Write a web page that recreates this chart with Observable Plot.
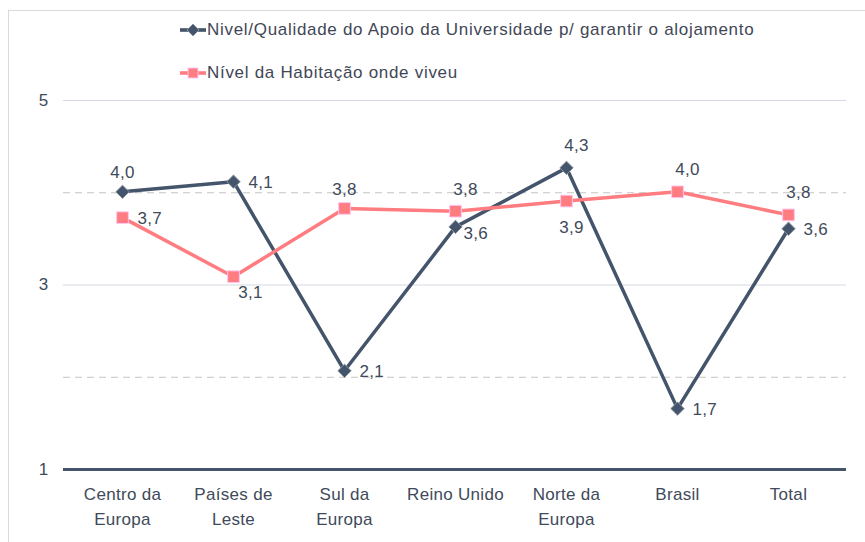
<!DOCTYPE html>
<html><head><meta charset="utf-8">
<script src="https://cdn.jsdelivr.net/npm/d3@7"></script>
<script src="https://cdn.jsdelivr.net/npm/@observablehq/plot@0.6"></script>
<style>
body{margin:0;background:#fff;font-family:"Liberation Sans",Arial,sans-serif;}
#wrap{position:relative;width:865px;height:542px;overflow:hidden;}
#frame{position:absolute;left:8px;top:10px;width:900px;height:600px;border:1px solid #d9d9d9;box-sizing:border-box;pointer-events:none;}
#chart{position:absolute;left:0;top:0;}
.leg{position:absolute;left:180px;display:flex;align-items:center;font-size:17px;color:#3f4756;letter-spacing:0.7px;white-space:nowrap;height:20px;}
.leg svg{margin-right:1px;}
</style></head><body>
<div id="wrap">
  <div id="chart"></div>
  <div id="frame"></div>
  <div class="leg" id="leg1" style="top:20px"></div>
  <div class="leg" id="leg2" style="top:63px"></div>
</div>
<script>
const categories = ["Centro da Europa", "Países de Leste", "Sul da Europa", "Reino Unido", "Norte da Europa", "Brasil", "Total"];
const tickLabels = ["Centro da\nEuropa", "Países de\nLeste", "Sul da\nEuropa", "Reino Unido", "Norte da\nEuropa", "Brasil", "Total"];
const seriesNames = ["Nivel/Qualidade do Apoio da Universidade p/ garantir o alojamento", "Nível da Habitação onde viveu"];
const apoio = [4.01, 4.12, 2.07, 3.63, 4.27, 1.66, 3.61];
const habitacao = [3.73, 3.09, 3.83, 3.80, 3.91, 4.01, 3.76];
const yTicks = [1, 3, 5];
const solidGrid = [3, 5];
const dashedGrid = [2, 4];
const baseline = [1];
// label placement keywords (Excel-style data label positions)
const apoioLabelPos = ["top", "right", "right", "rightDown", "topR", "right", "right"];
const habLabelPos = ["right", "belowR", "top", "topR", "below", "topR", "topR"];

const DARK = "#44546a", PINK = "#ff7c80", TXT = "#404a5a";
const fmt = v => v.toFixed(1).replace(".", ",");

const apoioRows = categories.map((c, i) => ({cat: c, v: apoio[i], pos: apoioLabelPos[i]}));
const habRows = categories.map((c, i) => ({cat: c, v: habitacao[i], pos: habLabelPos[i]}));
const allRows = apoioRows.concat(habRows);

const placements = {
  top: {dx: 0, dy: -19, textAnchor: "middle"},
  topR: {dx: 10, dy: -22, textAnchor: "middle"},
  right: {dx: 15, dy: 1, textAnchor: "start"},
  rightDown: {dx: 8, dy: 7, textAnchor: "start"},
  belowR: {dx: 17, dy: 16, textAnchor: "middle"},
  below: {dx: 5, dy: 26, textAnchor: "middle"}
};

const labelMarks = Object.entries(placements).map(([k, o]) =>
  Plot.text(allRows.filter(d => d.pos === k), {x: "cat", y: "v", text: d => fmt(d.v), fill: TXT, fontSize: 17, ...o})
);

const chart = Plot.plot({
  width: 865,
  height: 542,
  marginLeft: 63,
  marginRight: 19,
  marginTop: 100,
  marginBottom: 73,
  style: {fontFamily: "'Liberation Sans', Arial, sans-serif", fontSize: "17px", color: TXT, background: "transparent", letterSpacing: "0.3px"},
  x: {type: "point", domain: categories, padding: 0.5, label: null},
  y: {domain: [1, 5], label: null},
  marks: [
    Plot.ruleY(solidGrid, {stroke: "#d6d9e2", strokeWidth: 1}),
    Plot.ruleY(dashedGrid, {stroke: "#c4c4c4", strokeWidth: 1, strokeDasharray: "7,5"}),
    Plot.ruleY(baseline, {stroke: DARK, strokeWidth: 3}),
    Plot.axisY({ticks: yTicks, tickSize: 0, tickPadding: 15, fontSize: 17, label: null, tickFormat: d => String(d)}),
    Plot.axisX({tickSize: 0, tickPadding: 13, fontSize: 17, lineHeight: 1.47, label: null,
      tickFormat: d => tickLabels[categories.indexOf(d)]}),
    Plot.line(apoioRows, {x: "cat", y: "v", stroke: DARK, strokeWidth: 3.5}),
    Plot.dot(apoioRows, {x: "cat", y: "v", symbol: "diamond2", r: 6, fill: DARK, stroke: "#8a94a2", strokeWidth: 1}),
    Plot.line(habRows, {x: "cat", y: "v", stroke: PINK, strokeWidth: 3.5}),
    Plot.dot(habRows, {x: "cat", y: "v", symbol: "square", r: 6.6, fill: PINK, stroke: "#ffc6f2", strokeWidth: 1}),
    ...labelMarks
  ]
});
document.getElementById("chart").appendChild(chart);

// Legend
function legIcon(kind) {
  const s = kind === "diamond"
    ? `<rect x="0" y="6.2" width="26" height="3.6" fill="${DARK}"/><path d="M13 2 L19 8 L13 14 L7 8 Z" fill="${DARK}" stroke="#8a94a2" stroke-width="1"/>`
    : `<rect x="0" y="6.2" width="26" height="3.6" fill="${PINK}"/><rect x="8" y="3" width="10" height="10" fill="${PINK}" stroke="#ffc6f2" stroke-width="1"/>`;
  return `<svg width="26" height="16" viewBox="0 0 26 16">${s}</svg>`;
}
document.getElementById("leg1").innerHTML = legIcon("diamond") + `<span>${seriesNames[0]}</span>`;
document.getElementById("leg2").innerHTML = legIcon("square") + `<span>${seriesNames[1]}</span>`;
</script>
</body></html>
